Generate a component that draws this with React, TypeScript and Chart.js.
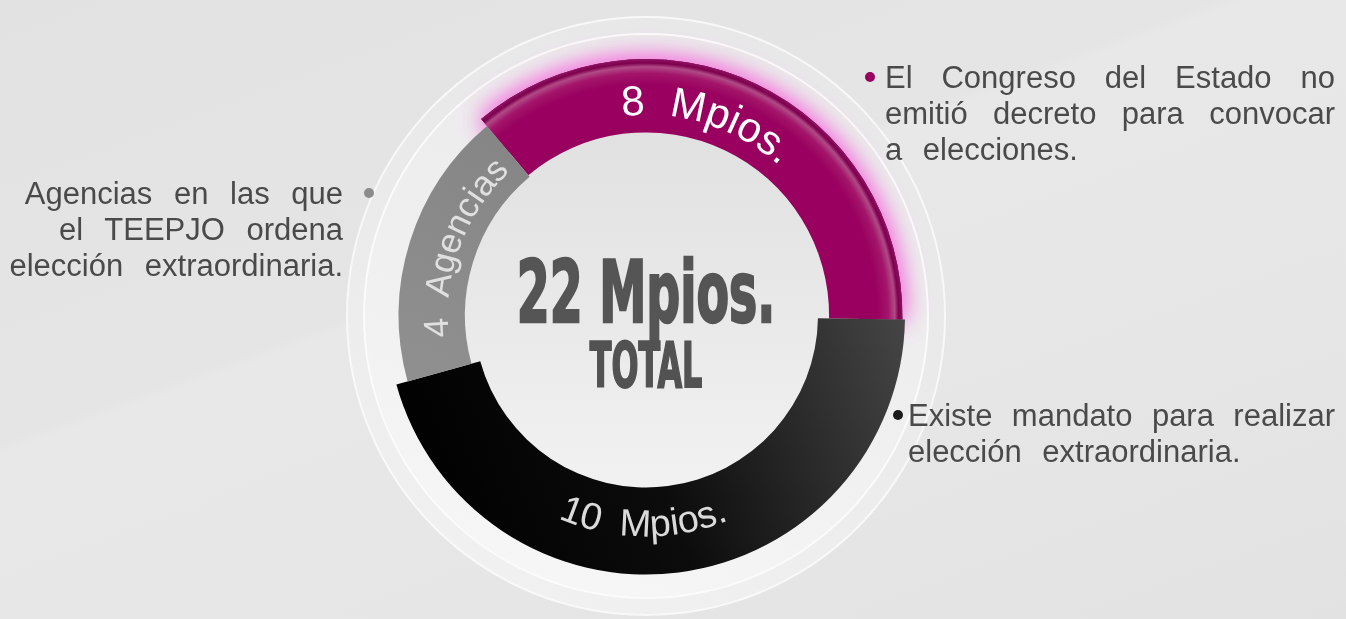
import React, { useEffect, useRef } from 'react';
import { Chart, registerables } from 'chart.js';

Chart.register(...registerables);

// ---- data ----
const CATEGORIES = [
  'El Congreso del Estado no emitió decreto',
  'Existe mandato para realizar elección extraordinaria',
  'Agencias en las que el TEEPJO ordena elección extraordinaria',
];
const VALUES = [8, 10, 4];
const UNITS = ['Mpios.', 'Mpios.', 'Agencias'];
const TOTAL_UNIT = 'Mpios.';
const TOTAL_CAPTION = 'TOTAL';
const NOTE_MAGENTA = ['El Congreso del Estado no', 'emitió decreto para convocar', 'a elecciones.'];
const NOTE_BLACK = ['Existe mandato para realizar', 'elección extraordinaria.'];
const NOTE_GRAY = ['Agencias en las que', 'el TEEPJO ordena', 'elección extraordinaria.'];

// ---- styles ----
const W = 1346;
const H = 619;
const CX = 646;
const CY = 315.5;
const RADIUS = 259;
const CUTOUT = 172;
const SEG_COLORS = ['#98005f', '#111111', '#8b8b8b'];
const OUTER_SCALE = [0.99, 1, 0.955];
const INNER_SCALE = [0.707, 0.664, 0.699];
const LABEL_STYLE = [
  { r: 0.775, offsetDeg: -8, outward: true, size: 42, color: '#ffffff' },
  { r: 0.853, offsetDeg: 8, outward: false, size: 38, color: '#dadada' },
  { r: 0.765, offsetDeg: 3, outward: true, size: 35, color: '#e0e0e0' },
];
const FONT = '"Liberation Sans", Arial, sans-serif';
const TITLE_FONT = '"DejaVu Sans Condensed", "Liberation Sans Narrow", sans-serif';

function drawArcText(ctx: CanvasRenderingContext2D, text: string, cx: number, cy: number, r: number, mid: number, outward: boolean) {
  const chars = Array.from(text);
  const widths = chars.map((ch) => ctx.measureText(ch).width);
  const total = widths.reduce((a, b) => a + b, 0);
  const span = total / r;
  let acc = 0;
  chars.forEach((ch, i) => {
    const w = widths[i];
    const a = outward ? mid - span / 2 + (acc + w / 2) / r : mid + span / 2 - (acc + w / 2) / r;
    ctx.save();
    ctx.translate(cx + r * Math.cos(a), cy + r * Math.sin(a));
    ctx.rotate(outward ? a + Math.PI / 2 : a - Math.PI / 2);
    ctx.fillText(ch, 0, 0);
    ctx.restore();
    acc += w;
  });
}

const ringShapePlugin = {
  id: 'ringShape',
  afterDatasetsUpdate(chart: any) {
    const meta = chart.getDatasetMeta(0);
    meta.data.forEach((el: any, i: number) => {
      const base = el.outerRadius;
      el.innerRadius = base * INNER_SCALE[i];
      el.outerRadius = base * OUTER_SCALE[i];
    });
  },
  beforeDatasetsDraw(chart: any) {
    const ctx = chart.ctx;
    const el = chart.getDatasetMeta(0).data[0];
    if (!el) return;
    ctx.save();
    ctx.beginPath();
    ctx.arc(el.x, el.y, 600, 0, Math.PI * 2);
    ctx.arc(el.x, el.y, el.innerRadius + 30, 0, Math.PI * 2, true);
    ctx.clip();
    ctx.shadowColor = 'rgba(244,120,222,1)';
    ctx.shadowBlur = 24;
    el.draw(ctx);
    el.draw(ctx);
    ctx.restore();
  },
  afterDatasetsDraw(chart: any) {
    const ctx = chart.ctx;
    const meta = chart.getDatasetMeta(0);
    meta.data.forEach((el: any, i: number) => {
      const st = LABEL_STYLE[i];
      const mid = (el.startAngle + el.endAngle) / 2 + (st.offsetDeg * Math.PI) / 180;
      ctx.save();
      ctx.font = `${st.size}px ${FONT}`;
      ctx.fillStyle = st.color;
      ctx.textAlign = 'center';
      ctx.textBaseline = 'alphabetic';
      drawArcText(ctx, `${VALUES[i]}  ${UNITS[i]}`, el.x, el.y, RADIUS * st.r, mid, st.outward);
      ctx.restore();
    });
  },
};

const lineBase: React.CSSProperties = {
  position: 'absolute',
  fontFamily: FONT,
  fontSize: 31,
  lineHeight: '36px',
  color: '#4a4a4a',
  whiteSpace: 'nowrap',
};

function Bullet({ x, y, color }: { x: number; y: number; color: string }) {
  return (
    <div
      style={{
        position: 'absolute',
        left: x - 5,
        top: y - 5,
        width: 10,
        height: 10,
        borderRadius: '50%',
        background: color,
      }}
    />
  );
}

function Disc({ r, background, border }: { r: number; background: string; border?: string }) {
  return (
    <div
      style={{
        position: 'absolute',
        left: CX - r,
        top: CY - r,
        width: 2 * r,
        height: 2 * r,
        boxSizing: 'border-box',
        borderRadius: '50%',
        background,
        border,
      }}
    />
  );
}

export default function App() {
  const ref = useRef<HTMLCanvasElement | null>(null);

  useEffect(() => {
    const canvas = ref.current;
    if (!canvas) return;
    const chart = new Chart(canvas, {
      type: 'doughnut',
      data: {
        labels: CATEGORIES,
        datasets: [
          {
            data: VALUES,
            borderWidth: 0,
            backgroundColor: (c: any) => {
              const i = c.dataIndex;
              const area = c.chart.chartArea;
              if (!area) return SEG_COLORS[i];
              const cx = (area.left + area.right) / 2;
              const cy = (area.top + area.bottom) / 2;
              const g = c.chart.ctx;
              if (i === 0) {
                const rg = g.createRadialGradient(cx, cy, 0, cx, cy, RADIUS * OUTER_SCALE[0]);
                rg.addColorStop(0, '#96005e');
                rg.addColorStop(0.9, '#99005f');
                rg.addColorStop(0.945, '#a3156a');
                rg.addColorStop(0.97, '#b04a86');
                rg.addColorStop(0.985, '#7e004e');
                rg.addColorStop(1, '#8a1460');
                return rg;
              }
              if (i === 1) {
                const lg = g.createLinearGradient(cx - 200, cy + 150, cx + 260, cy - 20);
                lg.addColorStop(0, '#020202');
                lg.addColorStop(0.4, '#0c0c0c');
                lg.addColorStop(1, '#474747');
                return lg;
              }
              const lg = g.createLinearGradient(cx - 250, cy + 40, cx - 150, cy - 200);
              lg.addColorStop(0, '#8f8f8f');
              lg.addColorStop(1, '#858585');
              return lg;
            },
          },
        ],
      },
      options: {
        responsive: false,
        maintainAspectRatio: false,
        animation: false,
        rotation: -40,
        radius: RADIUS,
        cutout: CUTOUT,
        layout: { padding: { left: 0, right: W - 2 * CX, top: 2 * CY - H, bottom: 0 } },
        plugins: {
          legend: { display: false },
          tooltip: { enabled: false },
        },
      } as any,
      plugins: [ringShapePlugin],
    });
    return () => chart.destroy();
  }, []);

  const total = VALUES.reduce((a, b) => a + b, 0);

  return (
    <div
      style={{
        position: 'fixed',
        left: 0,
        top: 0,
        width: W,
        height: H,
        overflow: 'hidden',
        background: 'linear-gradient(160deg, #e2e2e2 0%, #e5e5e5 40%, #e8e8e8 41%, #e6e6e6 70%, #e2e2e2 100%)',
      }}
    >
      {/* halo */}
      <Disc
        r={300}
        background="linear-gradient(200deg, #e7e7e7 0%, #eaeaea 45%, #f2f2f2 100%)"
        border="2px solid rgba(250,250,250,0.9)"
      />
      <Disc
        r={283}
        background="linear-gradient(200deg, #e9e9e9 0%, #eeeeee 45%, #f8f8f8 100%)"
        border="2px solid rgba(252,252,252,0.9)"
      />
      {/* hole */}
      <Disc r={185} background="linear-gradient(180deg, #e1e1e1 0%, #e9e9e9 50%, #f2f2f2 100%)" />
      <canvas ref={ref} width={W} height={H} style={{ position: 'absolute', left: 0, top: 0, width: W, height: H }} />

      {/* centre title */}
      <div
        style={{
          position: 'absolute',
          left: CX - 250,
          width: 500,
          top: 250,
          textAlign: 'center',
          fontFamily: TITLE_FONT,
          fontWeight: 'bold',
          fontSize: 85,
          lineHeight: '85px',
          transform: 'scaleX(0.62)',
          whiteSpace: 'nowrap',
          color: '#555555',
          WebkitTextStroke: '2.5px #555555',
        } as any}
      >
        {`${total} ${TOTAL_UNIT}`}
      </div>
      <div
        style={{
          position: 'absolute',
          left: CX - 250,
          width: 500,
          top: 334.5,
          textAlign: 'center',
          fontFamily: TITLE_FONT,
          fontWeight: 'bold',
          fontSize: 62,
          lineHeight: '62px',
          transform: 'scaleX(0.57)',
          color: '#525252',
          whiteSpace: 'nowrap',
          WebkitTextStroke: '2px #525252',
        } as any}
      >
        {TOTAL_CAPTION}
      </div>

      {/* right top note */}
      <Bullet x={870} y={77} color="#98005f" />
      {NOTE_MAGENTA.map((t, i) => (
        <div
          key={'m' + i}
          style={{
            ...lineBase,
            left: 885,
            top: 89 - 28.7 + i * 36,
            width: 450,
            textAlign: i < NOTE_MAGENTA.length - 1 ? 'justify' : 'left',
            textAlignLast: i < NOTE_MAGENTA.length - 1 ? 'justify' : 'left',
            wordSpacing: i < NOTE_MAGENTA.length - 1 ? 0 : 12,
          } as any}
        >
          {t}
        </div>
      ))}

      {/* right bottom note */}
      <Bullet x={898} y={415} color="#1a1a1a" />
      {NOTE_BLACK.map((t, i) => (
        <div
          key={'b' + i}
          style={{
            ...lineBase,
            left: 908,
            top: 427 - 28.7 + i * 36,
            width: 427,
            textAlign: i < NOTE_BLACK.length - 1 ? 'justify' : 'left',
            textAlignLast: i < NOTE_BLACK.length - 1 ? 'justify' : 'left',
            wordSpacing: i < NOTE_BLACK.length - 1 ? 0 : 12,
          } as any}
        >
          {t}
        </div>
      ))}

      {/* left note */}
      <Bullet x={369} y={193} color="#8b8b8b" />
      {NOTE_GRAY.map((t, i) => (
        <div
          key={'g' + i}
          style={{
            ...lineBase,
            right: W - 343,
            top: 205 - 28.7 + i * 36,
            textAlign: 'right',
            wordSpacing: 13,
          }}
        >
          {t}
        </div>
      ))}
    </div>
  );
}
